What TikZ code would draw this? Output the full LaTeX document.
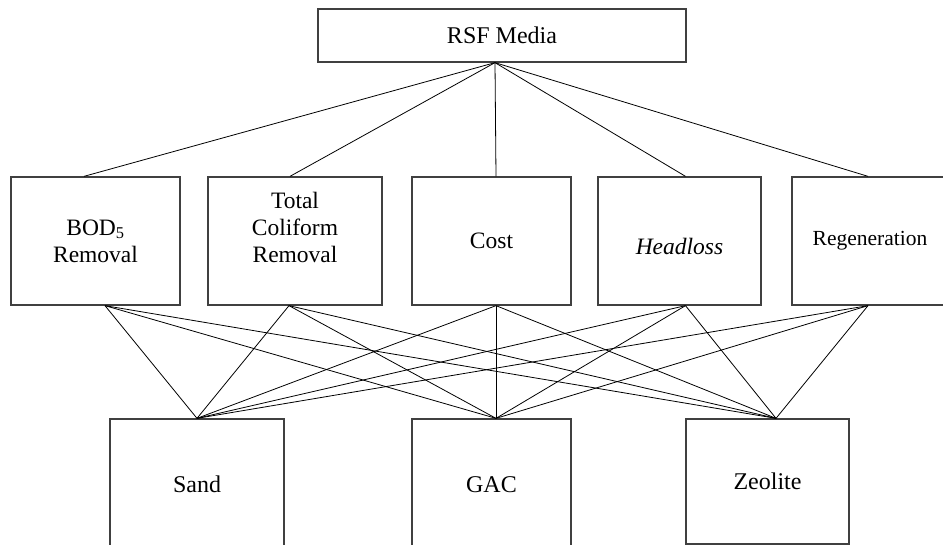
\documentclass[tikz,border=0pt]{standalone}
\usepackage{fontspec}
\setmainfont{Liberation Serif}
\begin{document}
\begin{tikzpicture}[x=1pt,y=-1pt,
        box/.style={draw=black!75, line width=1.3pt, inner sep=0pt, align=center, font=\fontsize{23.5}{27}\selectfont},
        link/.style={line width=0.8pt}]
            \useasboundingbox (0,0) rectangle (943,545);

            \node at (502,35.5) [box, minimum width=368, minimum height=53, font=\fontsize{24}{28}\selectfont] (rsf) {RSF Media};

            \node at (95.5,241) [box, minimum width=169, minimum height=128] (bod) {BOD\textsubscript{5}\\Removal};
            \node at (295,241) [box, minimum width=174, minimum height=128] (tcr) {Total\\Coliform\\Removal\\\mbox{}};
            \node at (491.5,241) [box, minimum width=159, minimum height=128] (cost) {Cost};
            \node at (679.5,241) [box, minimum width=163, minimum height=128, text height=28] (head) {\textit{Headloss}};
            \node at (870,241) [box, minimum width=156, minimum height=128, font=\fontsize{21.5}{25}\selectfont] (regen) {Regeneration};

            \node at (197,484.5) [box, minimum width=174, minimum height=131, font=\fontsize{24}{28}\selectfont] (sand) {Sand};
            \node at (491.5,484.5) [box, minimum width=159, minimum height=131, font=\fontsize{24}{28}\selectfont] (gac) {GAC};
            \node at (767.5,481.5) [box, minimum width=163, minimum height=125, font=\fontsize{24}{28}\selectfont] (zeo) {Zeolite};

            \draw[link] ([xshift=-7]rsf.south) -- ([xshift=-11.5]bod.north);
            \draw[link] ([xshift=-7]rsf.south) -- ([xshift=-5]tcr.north);
            \draw[link] ([xshift=-7]rsf.south) -- ([xshift=4.5]cost.north);
            \draw[link] ([xshift=-7]rsf.south) -- ([xshift=6]head.north);
            \draw[link] ([xshift=-7]rsf.south) -- ([xshift=-2]regen.north);

            \draw[link] ([xshift=9.5]bod.south) -- (sand.north);
            \draw[link] ([xshift=9.5]bod.south) -- ([xshift=4.5]gac.north);
            \draw[link] ([xshift=9.5]bod.south) -- ([xshift=8.5]zeo.north);
            \draw[link] ([xshift=-6]tcr.south) -- (sand.north);
            \draw[link] ([xshift=-6]tcr.south) -- ([xshift=4.5]gac.north);
            \draw[link] ([xshift=-6]tcr.south) -- ([xshift=8.5]zeo.north);
            \draw[link] ([xshift=4.5]cost.south) -- (sand.north);
            \draw[link] ([xshift=4.5]cost.south) -- ([xshift=4.5]gac.north);
            \draw[link] ([xshift=4.5]cost.south) -- ([xshift=8.5]zeo.north);
            \draw[link] ([xshift=6]head.south) -- (sand.north);
            \draw[link] ([xshift=6]head.south) -- ([xshift=4.5]gac.north);
            \draw[link] ([xshift=6]head.south) -- ([xshift=8.5]zeo.north);
            \draw[link] ([xshift=-2]regen.south) -- (sand.north);
            \draw[link] ([xshift=-2]regen.south) -- ([xshift=4.5]gac.north);
            \draw[link] ([xshift=-2]regen.south) -- ([xshift=8.5]zeo.north);
        \end{tikzpicture}
\end{document}
